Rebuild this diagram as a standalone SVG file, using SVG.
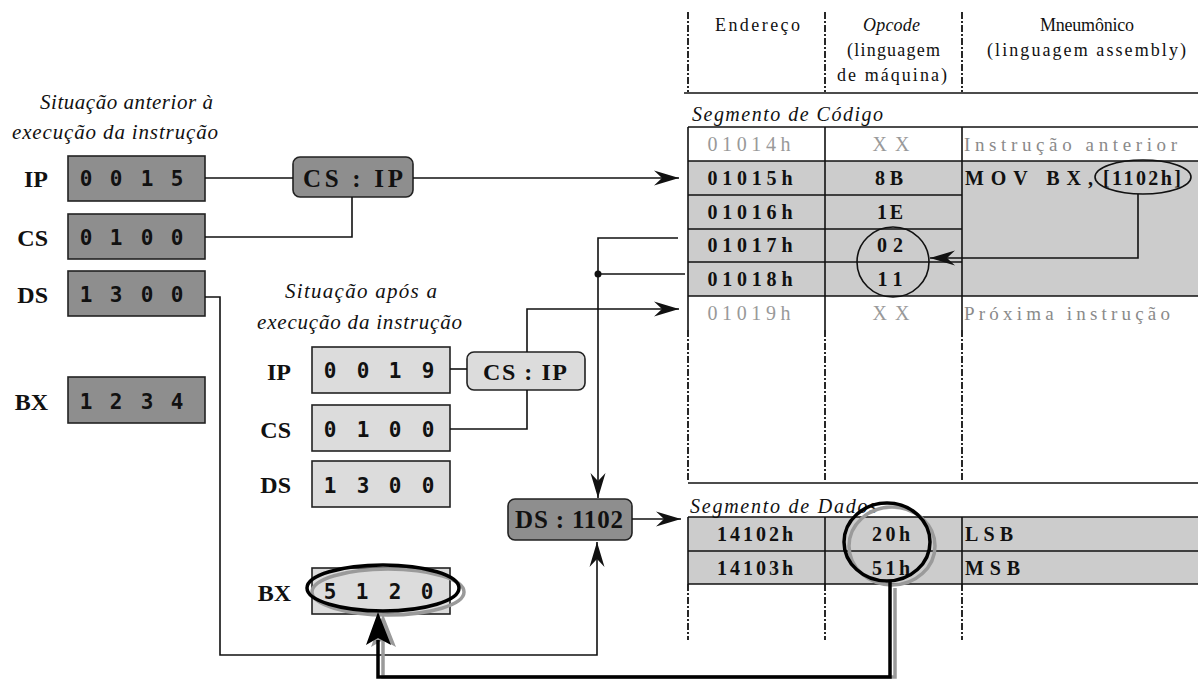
<svg xmlns="http://www.w3.org/2000/svg" width="1198" height="679" viewBox="0 0 1198 679">
<style>
.bg{fill:#fff}
.ser{font-family:"Liberation Serif","DejaVu Serif",serif;fill:#111}
.hdr{font-size:18px}
.it{font-style:italic}
.cell{font-size:20px;text-anchor:middle}
.b{font-weight:bold}
.lbl{font-family:"Liberation Serif",serif;font-weight:bold;font-size:24px;text-anchor:end;fill:#111}
.dig{font-family:"DejaVu Sans Mono",monospace;font-weight:bold;font-size:21px;text-anchor:middle;fill:#111}
.dark{fill:#8e8e8e;stroke:#222;stroke-width:1.6}
.light{fill:#dcdcdc;stroke:#222;stroke-width:1.6}
.ln{fill:none;stroke:#111;stroke-width:1.6}
.tl{stroke:#111;stroke-width:1.6;fill:none}
.dash{stroke:#111;stroke-width:1.8;stroke-dasharray:7 2 2 2;fill:none}
.arr{marker-end:url(#ah)}
.thick{fill:none;stroke:#000;stroke-width:3.5}
.shadow{fill:none;stroke:#9a9a9a;stroke-width:3.5}
.sl{font-family:"Liberation Serif",serif;font-weight:bold;text-anchor:middle;fill:#111}
</style>
<defs>
<marker id="ah" viewBox="-27 -9 28 18" refX="0" refY="0" markerWidth="28" markerHeight="18" markerUnits="userSpaceOnUse" orient="auto">
<path d="M0,0 L-25,-7.5 L-17,0 L-25,7.5 Z" fill="#111"/>
</marker>
</defs>
<rect class="bg" width="1198" height="679"/>

<g id="table">
<rect x="688" y="161" width="510" height="135" fill="#cccccc"/>
<rect x="688" y="517" width="510" height="67" fill="#cccccc"/>
<line class="dash" x1="688" y1="12" x2="688" y2="92"/>
<line class="dash" x1="825" y1="12" x2="825" y2="92"/>
<line class="dash" x1="962" y1="12" x2="962" y2="92"/>
<line class="tl" x1="684" y1="93" x2="1198" y2="93"/>
<text class="ser hdr" x="715" y="31" textLength="85" lengthAdjust="spacing">Endereço</text>
<text class="ser hdr it" x="863" y="31" textLength="57" lengthAdjust="spacing">Opcode</text>
<text class="ser hdr" x="847" y="56" textLength="93" lengthAdjust="spacing">(linguagem</text>
<text class="ser hdr" x="837" y="81" textLength="110" lengthAdjust="spacing">de máquina)</text>
<text class="ser hdr" x="1040" y="31" textLength="94" lengthAdjust="spacing">Mneumônico</text>
<text class="ser hdr" x="987" y="56" textLength="199" lengthAdjust="spacing">(linguagem assembly)</text>
<text class="ser it" x="692" y="121" font-size="20" textLength="191" lengthAdjust="spacing">Segmento de Código</text>

<line class="tl" x1="688" y1="127" x2="1198" y2="127"/>
<line class="tl" x1="688" y1="161" x2="1198" y2="161"/>
<line class="tl" x1="688" y1="195" x2="962" y2="195"/>
<line class="tl" x1="688" y1="229" x2="962" y2="229"/>
<line class="tl" x1="688" y1="262" x2="962" y2="262"/>
<line class="tl" x1="688" y1="296" x2="1198" y2="296"/>
<line class="tl" x1="688" y1="127" x2="688" y2="330"/>
<line class="tl" x1="825" y1="127" x2="825" y2="330"/>
<line class="tl" x1="962" y1="127" x2="962" y2="330"/>
<line class="dash" x1="688" y1="330" x2="688" y2="482"/>
<line class="dash" x1="825" y1="330" x2="825" y2="482"/>
<line class="dash" x1="962" y1="330" x2="962" y2="482"/>
<line class="tl" x1="688" y1="483" x2="1198" y2="483"/>

<text class="ser cell" x="749" y="151" style="fill:#999" textLength="83" lengthAdjust="spacing">01014h</text>
<text class="ser cell" x="891" y="151" style="fill:#999" textLength="37" lengthAdjust="spacing">XX</text>
<text class="ser" x="964" y="151" font-size="19" style="fill:#8a8a8a" textLength="213" lengthAdjust="spacing">Instrução anterior</text>

<text class="ser cell b" x="750" y="185" textLength="85" lengthAdjust="spacing">01015h</text>
<text class="ser cell b" x="889" y="185" textLength="28" lengthAdjust="spacing">8B</text>
<text class="ser b" x="965" y="185" font-size="20" textLength="128" lengthAdjust="spacing">MOV BX,</text>
<text class="ser b" x="1103" y="185" font-size="20" textLength="78" lengthAdjust="spacing">[1102h]</text>

<text class="ser cell b" x="750" y="219" textLength="85" lengthAdjust="spacing">01016h</text>
<text class="ser cell b" x="890" y="219" textLength="26" lengthAdjust="spacing">1E</text>
<text class="ser cell b" x="750" y="252" textLength="85" lengthAdjust="spacing">01017h</text>
<text class="ser cell b" x="890" y="252" textLength="26" lengthAdjust="spacing">02</text>
<text class="ser cell b" x="750" y="286" textLength="85" lengthAdjust="spacing">01018h</text>
<text class="ser cell b" x="890" y="286" textLength="25" lengthAdjust="spacing">11</text>

<text class="ser cell" x="749" y="320" style="fill:#999" textLength="83" lengthAdjust="spacing">01019h</text>
<text class="ser cell" x="891" y="320" style="fill:#999" textLength="37" lengthAdjust="spacing">XX</text>
<text class="ser" x="964" y="320" font-size="19" style="fill:#8a8a8a" textLength="206" lengthAdjust="spacing">Próxima instrução</text>

<text class="ser it" x="690" y="513" font-size="20" textLength="187" lengthAdjust="spacing">Segmento de Dados</text>
<line class="tl" x1="688" y1="517" x2="1198" y2="517"/>
<line class="tl" x1="688" y1="551" x2="1198" y2="551"/>
<line class="tl" x1="688" y1="584" x2="1198" y2="584"/>
<line class="tl" x1="688" y1="517" x2="688" y2="584"/>
<line class="tl" x1="825" y1="517" x2="825" y2="584"/>
<line class="tl" x1="962" y1="517" x2="962" y2="584"/>
<line class="dash" x1="688" y1="584" x2="688" y2="640"/>
<line class="dash" x1="825" y1="584" x2="825" y2="640"/>
<line class="dash" x1="962" y1="584" x2="962" y2="640"/>
<text class="ser cell b" x="755" y="541" textLength="76" lengthAdjust="spacing">14102h</text>
<text class="ser cell b" x="891" y="541" textLength="38" lengthAdjust="spacing">20h</text>
<text class="ser b" x="965" y="541" font-size="20" textLength="48" lengthAdjust="spacing">LSB</text>
<text class="ser cell b" x="755" y="575" textLength="76" lengthAdjust="spacing">14103h</text>
<text class="ser cell b" x="891" y="575" textLength="38" lengthAdjust="spacing">51h</text>
<text class="ser b" x="965" y="575" font-size="20" textLength="55" lengthAdjust="spacing">MSB</text>
</g>

<g id="highlights">
<ellipse cx="1143" cy="177" rx="48" ry="17" class="ln"/>
<ellipse cx="893" cy="262" rx="36" ry="35" class="ln"/>
<ellipse cx="892" cy="546" rx="43" ry="39" class="shadow"/>
<ellipse cx="887" cy="542" rx="43" ry="39" class="thick"/>
</g>

<g id="label-before" class="ser it">
<text x="40" y="109" font-size="21" textLength="173" lengthAdjust="spacing">Situação anterior à</text>
<text x="12" y="139" font-size="21" textLength="206" lengthAdjust="spacing">execução da instrução</text>
</g>
<g id="label-after" class="ser it">
<text x="285" y="298" font-size="21" textLength="152" lengthAdjust="spacing">Situação após a</text>
<text x="257" y="329" font-size="21" textLength="205" lengthAdjust="spacing">execução da instrução</text>
</g>

<g id="ip-before">
<text class="lbl" x="48" y="187">IP</text>
<rect class="dark" x="68" y="156" width="137" height="45"/>
<text class="dig" y="186"><tspan x="86">0</tspan><tspan x="116">0</tspan><tspan x="147">1</tspan><tspan x="177">5</tspan></text>
</g>
<g id="cs-before">
<text class="lbl" x="48" y="246">CS</text>
<rect class="dark" x="68" y="214" width="137" height="45"/>
<text class="dig" y="245"><tspan x="86">0</tspan><tspan x="116">1</tspan><tspan x="147">0</tspan><tspan x="177">0</tspan></text>
</g>
<g id="ds-before">
<text class="lbl" x="48" y="303">DS</text>
<rect class="dark" x="68" y="271" width="137" height="45"/>
<text class="dig" y="302"><tspan x="86">1</tspan><tspan x="116">3</tspan><tspan x="147">0</tspan><tspan x="177">0</tspan></text>
</g>
<g id="bx-before">
<text class="lbl" x="48" y="410">BX</text>
<rect class="dark" x="68" y="377" width="137" height="46"/>
<text class="dig" y="409"><tspan x="86">1</tspan><tspan x="116">2</tspan><tspan x="147">3</tspan><tspan x="177">4</tspan></text>
</g>
<g id="csip-before">
<rect class="dark" x="293" y="157" width="120" height="40" rx="7"/>
<text class="sl" x="353" y="187" font-size="25" textLength="100" lengthAdjust="spacing">CS : IP</text>
</g>

<g id="ip-after">
<text class="lbl" x="291" y="380">IP</text>
<rect class="light" x="312" y="347" width="138" height="46"/>
<text class="dig" y="378"><tspan x="330">0</tspan><tspan x="363">0</tspan><tspan x="395">1</tspan><tspan x="428">9</tspan></text>
</g>
<g id="cs-after">
<text class="lbl" x="291" y="438">CS</text>
<rect class="light" x="312" y="405" width="138" height="46"/>
<text class="dig" y="437"><tspan x="330">0</tspan><tspan x="363">1</tspan><tspan x="395">0</tspan><tspan x="428">0</tspan></text>
</g>
<g id="ds-after">
<text class="lbl" x="291" y="493">DS</text>
<rect class="light" x="312" y="461" width="138" height="46"/>
<text class="dig" y="493"><tspan x="330">1</tspan><tspan x="363">3</tspan><tspan x="395">0</tspan><tspan x="428">0</tspan></text>
</g>
<g id="bx-after">
<text class="lbl" x="291" y="601">BX</text>
<rect class="light" x="312" y="568" width="138" height="46"/>
<text class="dig" y="599"><tspan x="330">5</tspan><tspan x="362">1</tspan><tspan x="395">2</tspan><tspan x="427">0</tspan></text>
<ellipse cx="388" cy="592" rx="76" ry="23" class="shadow"/>
<ellipse cx="383" cy="588" rx="76" ry="23" class="thick"/>
</g>
<g id="csip-after">
<rect class="light" x="467" y="352" width="118" height="38" rx="7"/>
<text class="sl" x="525" y="380" font-size="24" textLength="84" lengthAdjust="spacing">CS : IP</text>
</g>
<g id="ds1102">
<rect class="dark" x="508" y="499" width="124" height="41" rx="7"/>
<text class="sl" x="569" y="528" font-size="25" textLength="108" lengthAdjust="spacing">DS : 1102</text>
</g>

<g id="connectors">
<path class="ln" d="M205,178 H293"/>
<path class="ln arr" d="M413,178 H679"/>
<path class="ln" d="M205,237 H352 V197"/>
<path class="ln arr" d="M205,297 H220 V655 H597 V542"/>
<path class="ln" d="M450,369 H467"/>
<path class="ln" d="M450,429 H527 V390"/>
<path class="ln arr" d="M527,352 V309 H679"/>
<path class="ln arr" d="M678,238 H598 V498"/>
<path class="ln" d="M598,274 H685"/>
<circle cx="598" cy="274" r="3.5" fill="#111"/>
<path class="ln arr" d="M632,519 H681"/>
<path class="ln arr" d="M1138,194 V258 H930"/>
<path class="shadow" d="M895,588 V677 H383 V640"/>
<path d="M383,614 L371,647 L383,640 L396,647 Z" fill="#9a9a9a"/>
<path class="thick" d="M890,581 V677 H378 V640"/>
<path d="M378,612 L366,645 L378,638 L391,645 Z" fill="#000"/>
</g>
</svg>
